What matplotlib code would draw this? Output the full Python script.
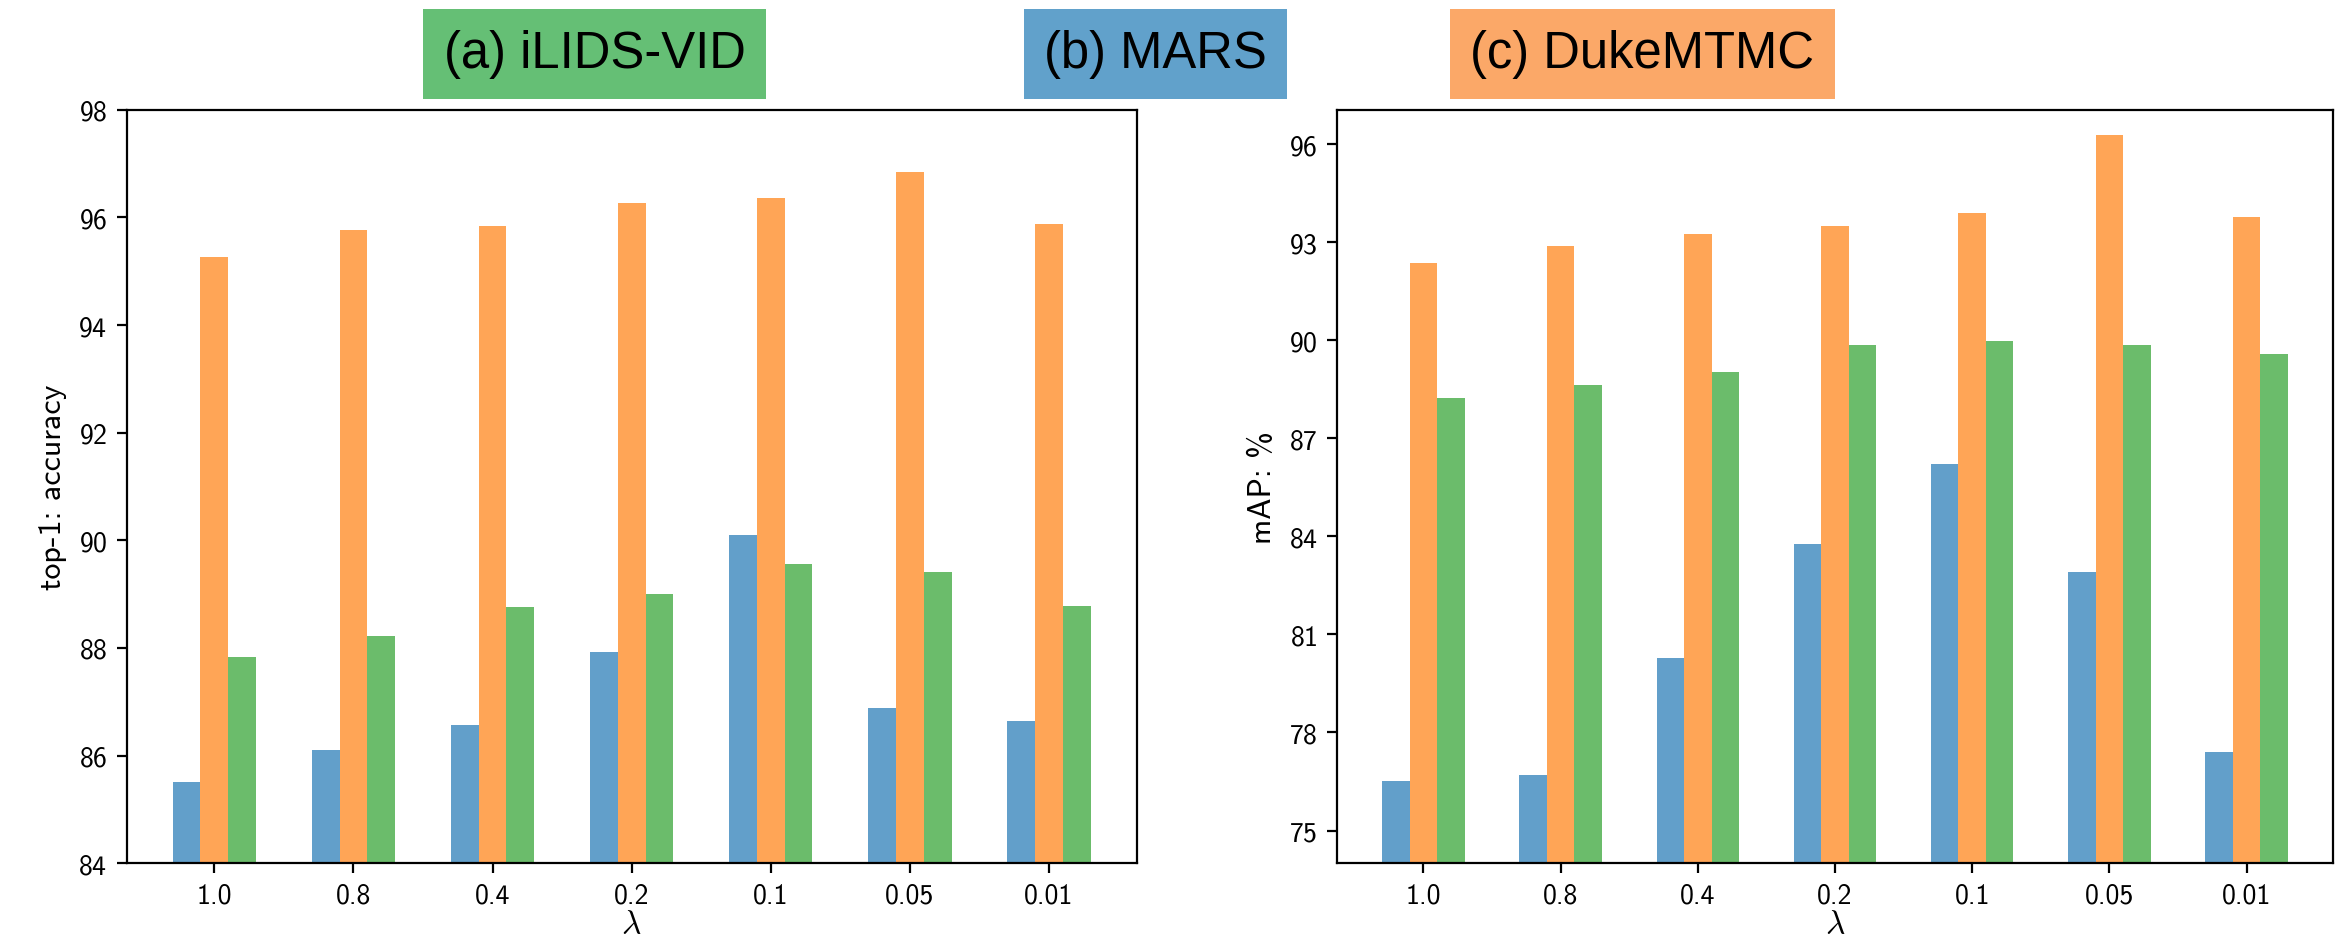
import os
import numpy as np
import matplotlib
matplotlib.use("Agg")
import matplotlib as mpl
import matplotlib.pyplot as plt
from matplotlib import font_manager

# Computer Modern sans shipped with matplotlib, for the tick/axis text
font_manager.fontManager.addfont(os.path.join(mpl.get_data_path(), "fonts/ttf/cmss10.ttf"))
plt.rcParams["font.family"] = "cmss10"
plt.rcParams["mathtext.fontset"] = "cm"
plt.rcParams["axes.formatter.use_mathtext"] = True

# data
lambdas = ["1.0", "0.8", "0.4", "0.2", "0.1", "0.05", "0.01"]

top1_mars = [85.50, 86.11, 86.57, 87.92, 90.09, 86.89, 86.64]
top1_duke = [95.26, 95.77, 95.85, 96.26, 96.37, 96.85, 95.87]
top1_ilids = [87.83, 88.23, 88.76, 89.01, 89.56, 89.42, 88.78]

map_mars = [76.50, 76.70, 80.29, 83.78, 86.20, 82.91, 77.41]
map_duke = [92.37, 92.88, 93.26, 93.48, 93.88, 96.28, 93.77]
map_ilids = [88.24, 88.63, 89.03, 89.84, 89.98, 89.84, 89.57]

c_blue = "#1f77b4"
c_orange = "#ff7f0e"
c_green = "#2ca02c"

W, H = 2341, 945
fig = plt.figure(figsize=(W / 200, H / 200), dpi=200)
ax1 = fig.add_axes([126.7 / W, 1 - 864.2 / H, 1009.9 / W, 753.4 / H])
ax2 = fig.add_axes([1337 / W, 1 - 864.2 / H, 996 / W, 753.4 / H])

x = np.arange(len(lambdas))
w = 0.2

def draw(ax, mars, duke, ilids, ylim, yticks, ylabel):
    ax.bar(x - w, mars, w, color=c_blue, alpha=0.7)
    ax.bar(x, duke, w, color=c_orange, alpha=0.7)
    ax.bar(x + w, ilids, w, color=c_green, alpha=0.7)
    ax.set_ylim(*ylim)
    ax.set_yticks(yticks)
    ax.set_xticks(x)
    ax.set_xticklabels(lambdas)
    ax.set_xlabel(r"$\lambda$", fontsize=12, labelpad=1)
    ax.set_ylabel(ylabel, fontsize=11.5)

draw(ax1, top1_mars, top1_duke, top1_ilids, (84, 98), np.arange(84, 99, 2), "top-1: accuracy")
draw(ax2, map_mars, map_duke, map_ilids, (74, 97.05), np.arange(75, 97, 3), "mAP: %")

# dataset "legend" boxes along the top
titles = [("(a) iLIDS-VID", 594.5, "#65bf75"),
          ("(b) MARS", 1155.5, "#61a1cb"),
          ("(c) DukeMTMC", 1642.5, "#fba868")]
for txt, cx, col in titles:
    fig.text(cx / W, 1 - 55 / H, txt, ha="center", va="center", fontsize=18.3,
             family="Liberation Sans", color="black",
             bbox=dict(boxstyle="square,pad=0.4", facecolor=col, edgecolor="none"))

fig.savefig("out.png", dpi=200)
